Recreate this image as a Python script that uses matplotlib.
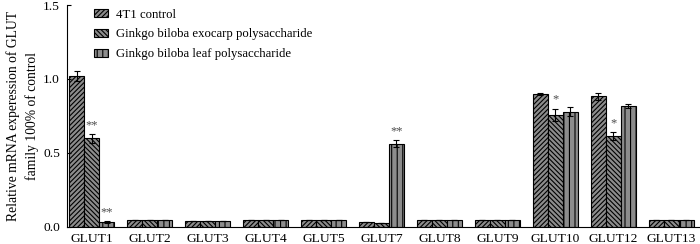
import matplotlib.pyplot as plt
import numpy as np

plt.rcParams['font.family'] = ['Liberation Serif', 'DejaVu Serif']
plt.rcParams['hatch.linewidth'] = 0.8

genes = ['GLUT1', 'GLUT2', 'GLUT3', 'GLUT4', 'GLUT5', 'GLUT7', 'GLUT8',
         'GLUT9', 'GLUT10', 'GLUT12', 'GLUT13']
control = [1.02, 0.045, 0.043, 0.045, 0.045, 0.035, 0.045, 0.045, 0.897, 0.883, 0.045]
exocarp = [0.60, 0.045, 0.043, 0.045, 0.045, 0.025, 0.045, 0.045, 0.757, 0.615, 0.045]
leaf = [0.035, 0.045, 0.043, 0.045, 0.045, 0.563, 0.045, 0.045, 0.78, 0.818, 0.045]
control_err = [0.034, 0, 0, 0, 0, 0, 0, 0, 0.008, 0.024, 0]
exocarp_err = [0.03, 0, 0, 0, 0, 0, 0, 0, 0.043, 0.025, 0]
leaf_err = [0.005, 0, 0, 0, 0, 0.023, 0, 0, 0.03, 0.011, 0]
# significance marks: (group, series, text)
marks = [(0, 1, '**'), (0, 2, '**'), (5, 2, '**'), (8, 1, '*'), (9, 1, '*')]

labels = ['4T1 control', 'Ginkgo biloba exocarp polysaccharide',
          'Ginkgo biloba leaf polysaccharide']
hatches = ['///////', '\\\\\\\\\\\\\\', '|||']

fig = plt.figure(figsize=(7, 2.44), dpi=100)
ax = fig.add_axes([0.0957, 0.0697, 0.9043, 0.9098])

x = np.arange(len(genes))
w = 0.259
series = [control, exocarp, leaf]
errs = [control_err, exocarp_err, leaf_err]
for i in range(3):
    ax.bar(x + (i - 1) * w, series[i], w, yerr=errs[i], facecolor='0.55',
           edgecolor='black', linewidth=0.8, hatch=hatches[i], label=labels[i],
           error_kw=dict(ecolor='black', elinewidth=0.8, capsize=2.5, capthick=0.8))

for g, s, t in marks:
    top = series[s][g] + errs[s][g]
    ax.annotate(t, (x[g] + (s - 1) * w, top), xytext=(0, 2), textcoords='offset points',
                ha='center', va='bottom', fontsize=9, color='0.3')

ax.set_xlim(-0.43, 10.5)
ax.set_ylim(0, 1.5)
ax.set_yticks([0, 0.5, 1.0, 1.5])
ax.set_yticklabels(['0.0', '0.5', '1.0', '1.5'])
ax.set_xticks(x)
ax.set_xticklabels(genes)
ax.tick_params(axis='y', direction='in', length=3, width=0.8, labelsize=9.7, pad=5)
ax.tick_params(axis='x', length=0, labelsize=9.7, pad=4)
ax.spines['top'].set_visible(False)
ax.spines['right'].set_visible(False)
ax.spines['left'].set_linewidth(0.8)
ax.spines['bottom'].set_linewidth(0.8)
ax.set_ylabel('Relative mRNA experession of GLUT\nfamily 100% of control',
              fontsize=9.8, linespacing=1.5, labelpad=3)

ax.legend(loc='upper left', bbox_to_anchor=(0.025, 1.035), frameon=False, fontsize=9.2,
          handlelength=1.1, handleheight=0.6, handletextpad=0.6, labelspacing=0.6)

fig.savefig('out.png', dpi=100)
